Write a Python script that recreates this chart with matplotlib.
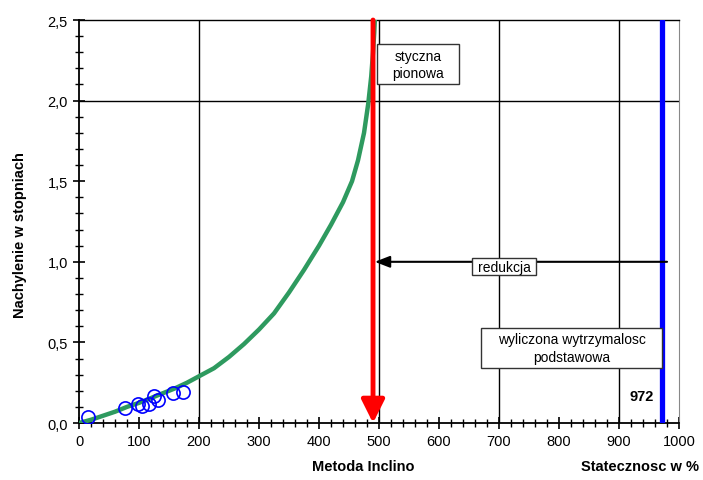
import numpy as np
import matplotlib
matplotlib.use("Agg")
import matplotlib.pyplot as plt
from matplotlib.patches import Rectangle
from matplotlib.ticker import MultipleLocator, FuncFormatter

plt.rcParams['font.family'] = ['Liberation Sans', 'DejaVu Sans']

# curve
curve_x = [0, 20, 40, 60, 80, 100, 120, 140, 160, 180, 200, 225, 250, 275, 300, 325,
           350, 375, 400, 420, 440, 455, 465, 475, 482, 487, 490, 492, 493]
curve_y = [0.0, 0.02, 0.045, 0.07, 0.1, 0.125, 0.155, 0.185, 0.215, 0.25, 0.29, 0.34,
           0.41, 0.49, 0.58, 0.68, 0.81, 0.95, 1.1, 1.23, 1.37, 1.5, 1.63, 1.8, 1.98,
           2.15, 2.3, 2.42, 2.5]

# measured points
pts_x = [15, 77, 98, 105, 116, 125, 131, 156, 173]
pts_y = [0.035, 0.095, 0.12, 0.105, 0.12, 0.165, 0.14, 0.185, 0.195]

x_tangent = 490
x_result = 972
y_reduction = 1.0
grid_x = [200, 500, 700, 900]
grid_y = [2.0]

fig = plt.figure(figsize=(7.03, 4.81), dpi=100)
ax = fig.add_axes([0.1124, 0.1185, 0.8535, 0.8378])
ax.set_xlim(0, 1000)
ax.set_ylim(0, 2.5)

for gx in grid_x:
    ax.axvline(gx, color='black', lw=1.0, zorder=1)
for gy in grid_y:
    ax.axhline(gy, color='black', lw=1.0, zorder=1)

ax.plot(curve_x, curve_y, color='#2e9a5f', lw=3.2, zorder=3,
        solid_capstyle='round', solid_joinstyle='round')
ax.plot(pts_x, pts_y, 'o', mfc='none', mec='blue', ms=9.5, mew=1.2, zorder=4)

# vertical tangent with arrow
ax.annotate('', xy=(x_tangent, 0), xytext=(x_tangent, 2.5),
            arrowprops=dict(arrowstyle='-|>,head_length=1.4,head_width=0.7',
                            color='red', lw=3.5, shrinkA=0, shrinkB=0), zorder=5)
# result line
ax.plot([x_result, x_result], [0, 2.5], color='blue', lw=3.8, zorder=5, solid_capstyle='round')

# reduction arrow
ax.annotate('', xy=(493, y_reduction), xytext=(980, y_reduction),
            arrowprops=dict(arrowstyle='-|>,head_length=0.9,head_width=0.35',
                            color='black', lw=1.5, shrinkA=0, shrinkB=0), zorder=6)


def label_box(x0, x1, y0, y1, text, **kw):
    ax.add_patch(Rectangle((x0, y0), x1 - x0, y1 - y0, fc='white', ec='#333333',
                           lw=1.0, zorder=7))
    ax.text((x0 + x1) / 2, (y0 + y1) / 2, text, ha='center', va='center',
            fontsize=10, zorder=8, linespacing=1.3, **kw)


label_box(655, 762, 0.917, 1.023, 'redukcja')
label_box(497, 633, 2.10, 2.35, 'styczna\npionowa')
label_box(670, 972, 0.34, 0.59, 'wyliczona wytrzymalosc\npodstawowa')
ax.text(938, 0.17, '972', ha='center', va='center', fontsize=10.5, fontweight='bold', zorder=7)

ax.xaxis.set_major_locator(MultipleLocator(100))
ax.xaxis.set_minor_locator(MultipleLocator(20))
ax.yaxis.set_major_locator(MultipleLocator(0.5))
ax.yaxis.set_minor_locator(MultipleLocator(0.1))
ax.yaxis.set_major_formatter(FuncFormatter(lambda v, p: f'{v:.1f}'.replace('.', ',')))
ax.tick_params(which='major', direction='inout', length=8, width=1.2, labelsize=10.5, pad=4)
ax.tick_params(which='minor', direction='inout', length=6, width=1.0)

for s in ['left', 'bottom']:
    ax.spines[s].set_linewidth(1.3)
ax.spines['top'].set_linewidth(1.0)
ax.spines['right'].set_color('#888888')

ax.set_ylabel('Nachylenie w stopniach', fontsize=10.5, fontweight='bold')
ax.yaxis.set_label_coords(-0.087, 0.47)
fig.text(363 / 703, 1 - 467 / 481, 'Metoda Inclino', ha='center', va='center',
         fontsize=10.5, fontweight='bold')
fig.text(640 / 703, 1 - 467 / 481, 'Statecznosc w %', ha='center', va='center',
         fontsize=10.5, fontweight='bold')

fig.savefig('out.png', dpi=100)
